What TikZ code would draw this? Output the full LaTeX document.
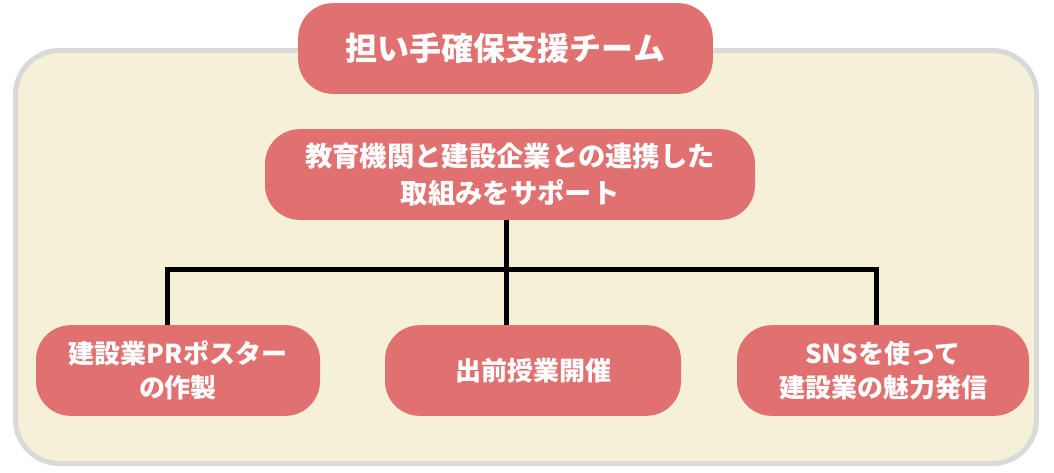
\documentclass[tikz,border=0pt]{standalone}
\usepackage{fontspec}
\newfontfamily\jpfont{Noto Sans CJK JP}
\usetikzlibrary{positioning,calc}

\definecolor{boxred}{RGB}{224,113,112}
\definecolor{panelbg}{RGB}{245,240,216}
\definecolor{panelline}{RGB}{217,217,217}

\begin{document}
\begin{tikzpicture}[
    x=0.75pt, y=-0.75pt,
    teambox/.style={rectangle, rounded corners=26pt, fill=boxred, text=white,
                  inner sep=0pt, align=center, minimum height=68pt,
                  font=\jpfont\bfseries\fontsize{20.5}{28}\selectfont},
    taskbox/.style={teambox, font=\jpfont\bfseries\fontsize{19.5}{26}\selectfont},
    link/.style={line width=3.75pt, black}
]
\useasboundingbox (0,0) rectangle (1054,472);

% Panel
\draw[line width=3.75pt, draw=panelline, fill=panelbg, rounded corners=33pt]
    (15.5,50.5) rectangle (1036.5,463.5);

% Title
\node[teambox, minimum width=311pt, font=\jpfont\bfseries\fontsize{24}{30}\selectfont]
    (team) at (505.5,48.5) {担い手確保支援チーム};

% Support
\node[teambox, minimum width=367.5pt] (support) at (510,174.5)
    {教育機関と建設企業との連携した\\取組みをサポート};

% Tasks
\node[taskbox, minimum width=213pt] (poster) at (178,370.5) {建設業PRポスター\\の作製};
\node[taskbox, minimum width=222pt] (lecture) at (533,370.5) {出前授業開催};
\node[taskbox, minimum width=219pt] (sns) at (883,370.5) {SNSを使って\\建設業の魅力発信};

% Branches
\coordinate (jl) at (167,269);
\coordinate (jm) at (506,269);
\coordinate (jr) at (876,269);

\draw[link] (jl |- poster.north) -- (jl) -- (jr) -- (jr |- sns.north);
\draw[link] (jm |- support.south) -- (jm |- lecture.north);

\end{tikzpicture}
\end{document}
